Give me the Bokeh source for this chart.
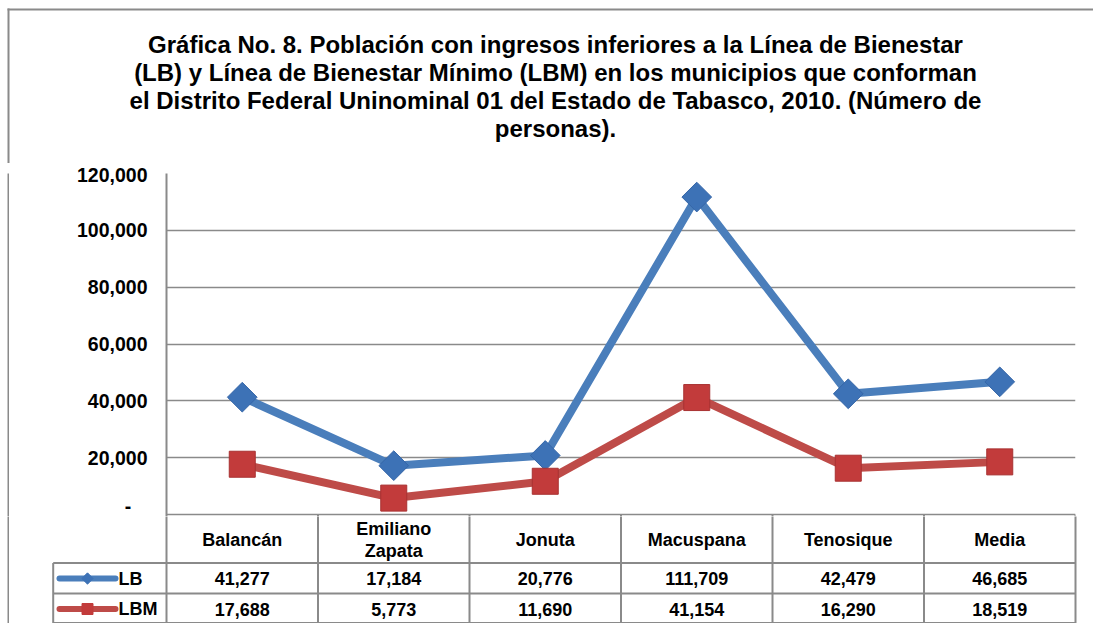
import math
from bokeh.plotting import figure
from bokeh.models import Range1d, FactorRange, CustomJSTickFormatter, FixedTicker
from bokeh.layouts import column, row
from bokeh.core.properties import value
from bokeh.embed import file_html
from bokeh.resources import INLINE

# ---------------- data ----------------
categories = ["Balancán", "Emiliano Zapata", "Jonuta", "Macuspana", "Tenosique", "Media"]
lb = [41277, 17184, 20776, 111709, 42479, 46685]
lbm = [17688, 5773, 11690, 41154, 16290, 18519]
series_names = ["LB", "LBM"]
y_ticks = [0, 20000, 40000, 60000, 80000, 100000, 120000]
title_lines = [
    "Gráfica No. 8. Población con ingresos inferiores a la Línea de Bienestar",
    "(LB) y Línea de Bienestar Mínimo (LBM) en los municipios que conforman",
    "el Distrito Federal Uninominal 01 del Estado de Tabasco, 2010. (Número de",
    "personas).",
]

# ---------------- style / geometry (page pixels) ----------------
FONT = "Liberation Sans"
BLUE_LINE = "#4a7ebb"
BLUE_MARK = "#3d72b6"
RED_LINE = "#be4b48"
RED_MARK = "#c23b3b"
GRID = "#8a8a8a"
W = 1093            # total width
STRIP = 9           # left strip: its 2px-wide frame is the outer border line
FRAME_L = 166       # plot frame left (page x)
FRAME_R = 1075      # plot frame right (page x)
FRAME_T = 173       # plot frame top (page y) = 120,000
FRAME_B = 514       # page y of value 0
TITLE_H = 163
EXT = 2             # chart frame extends a little below zero
TABLE_T = FRAME_B + EXT
TABLE_H = 623 - TABLE_T
BORDER_X = 8
BORDER_Y = 9
n = len(categories)
COL_W = (FRAME_R - FRAME_L) / n

def no_decor(f):
    f.axis.visible = False
    f.grid.visible = False
    f.outline_line_color = None

def border_strip(h):
    s = figure(width=STRIP, height=h, x_range=Range1d(0, 1), y_range=Range1d(0, 1),
               output_backend="svg", toolbar_location=None,
               min_border_left=BORDER_X - 1, min_border_right=0, min_border_top=0, min_border_bottom=0,
               background_fill_color=GRID, border_fill_color="white")
    no_decor(s)
    return s

# ---------------- title band ----------------
ttl = figure(width=W, height=TITLE_H, x_range=Range1d(0, W), y_range=Range1d(TITLE_H, 0),
             output_backend="svg", toolbar_location=None,
             min_border_left=0, min_border_right=0, min_border_top=0, min_border_bottom=0)
no_decor(ttl)
tcx = 555
tys = [44 + 28 * i for i in range(len(title_lines))]
ttl.text([tcx] * len(title_lines), tys, title_lines, text_align="center", text_baseline="middle",
         text_font=value(FONT), text_font_style="bold", text_font_size="24px", text_color="#000000")
# outer frame: top edge and left edge
ttl.quad(left=[BORDER_X - 1, BORDER_X - 1], right=[W + 5, BORDER_X + 1],
         top=[BORDER_Y - 1, BORDER_Y - 1], bottom=[BORDER_Y + 1, TITLE_H + 5],
         fill_color=GRID, line_color=None)

# ---------------- chart ----------------
CH_H = TABLE_T - TITLE_H
y_top = 120000
y_ext = -y_top * EXT / (FRAME_B - FRAME_T)
p = figure(width=W - STRIP, height=CH_H,
           x_range=FactorRange(*categories, range_padding=0),
           y_range=Range1d(y_ext, y_top),
           output_backend="svg", toolbar_location=None,
           min_border_left=FRAME_L - STRIP, min_border_right=W - FRAME_R,
           min_border_top=FRAME_T - TITLE_H, min_border_bottom=0)
p.outline_line_color = None
p.xaxis.visible = False
p.xgrid.visible = False
p.ygrid.ticker = FixedTicker(ticks=y_ticks)
p.ygrid.grid_line_color = GRID
p.ygrid.grid_line_width = 1.5
p.yaxis.ticker = FixedTicker(ticks=y_ticks)
p.yaxis.formatter = CustomJSTickFormatter(
    code="return tick == 0 ? '-\u2002\u2004' : tick.toLocaleString('en-US');")
p.yaxis.axis_line_color = GRID
p.yaxis.axis_line_width = 2
p.yaxis.major_tick_line_color = None
p.yaxis.minor_tick_line_color = None
p.yaxis.major_label_standoff = 13
p.yaxis.major_label_text_font = FONT
p.yaxis.major_label_text_font_style = "bold"
p.yaxis.major_label_text_font_size = "19.5px"
p.yaxis.major_label_text_color = "#000000"

# top of the data table (column separators) inside the chart band
p.segment(x0=list(range(1, n + 1)), y0=[0] * n, x1=list(range(1, n + 1)), y1=[y_ext * 3] * n,
          line_color=GRID, line_width=2)

p.line(categories, lb, line_width=8, line_color=BLUE_LINE)
p.scatter(categories, lb, marker="square", angle=math.pi / 4, size=21,
          fill_color=BLUE_MARK, line_color="#3566a8", line_width=1)
p.line(categories, lbm, line_width=8, line_color=RED_LINE)
p.scatter(categories, lbm, marker="square", size=26,
          fill_color=RED_MARK, line_color="#a83232", line_width=1)

# ---------------- data table ----------------
def tx(px):
    return (px - FRAME_L) / COL_W

def ty(py):
    return py - TABLE_T

t = figure(width=W - STRIP, height=TABLE_H, x_range=Range1d(tx(STRIP), tx(W)), y_range=Range1d(TABLE_H, 0),
           output_backend="svg", toolbar_location=None,
           min_border_left=0, min_border_right=0, min_border_top=0, min_border_bottom=0)
no_decor(t)

leg_left = tx(52.7)
row_lines = [ty(562.5), ty(593), ty(622.5)]
# vertical lines
t.segment(x0=list(range(n + 1)), y0=[-2] * (n + 1), x1=list(range(n + 1)), y1=[row_lines[2]] * (n + 1),
          line_color=GRID, line_width=2)
t.segment(x0=[leg_left], y0=[row_lines[0]], x1=[leg_left], y1=[row_lines[2]], line_color=GRID, line_width=2)
# horizontal lines
t.segment(x0=[leg_left] * 3, y0=row_lines, x1=[n] * 3, y1=row_lines, line_color=GRID, line_width=2)

tfont = dict(text_font=value(FONT), text_font_style="bold", text_font_size="18px",
             text_color="#000000", text_baseline="middle")
hx, hy, ht = [], [], []
for i, c in enumerate(categories):
    words = c.split(" ")
    if len(words) == 2:
        hx += [i + 0.5, i + 0.5]
        hy += [ty(528.5), ty(550)]
        ht += words
    else:
        hx.append(i + 0.5)
        hy.append(ty(539))
        ht.append(c)
t.text(hx, hy, ht, text_align="center", **tfont)
xs = [i + 0.5 for i in range(n)]
t.text(xs, [ty(578)] * n, [f"{v:,}" for v in lb], text_align="center", **tfont)
t.text(xs, [ty(608.5)] * n, [f"{v:,}" for v in lbm], text_align="center", **tfont)

# legend keys
ly = [ty(578), ty(608.5)]
t.segment(x0=[tx(59)], y0=[ly[0]], x1=[tx(115)], y1=[ly[0]], line_color=BLUE_LINE, line_width=6, line_cap="round")
t.scatter([tx(87)], [ly[0]], marker="square", angle=math.pi / 4, size=8, fill_color=BLUE_MARK, line_color=BLUE_MARK)
t.segment(x0=[tx(59)], y0=[ly[1]], x1=[tx(115)], y1=[ly[1]], line_color=RED_LINE, line_width=6, line_cap="round")
t.scatter([tx(87)], [ly[1]], marker="square", size=11, fill_color=RED_MARK, line_color=RED_MARK)
t.text([tx(118)] * 2, ly, series_names, text_align="left", **tfont)

layout = column(ttl, row(border_strip(CH_H), p, spacing=0), row(border_strip(TABLE_H), t, spacing=0), spacing=0)
open("out.html", "w").write(file_html(layout, INLINE))
